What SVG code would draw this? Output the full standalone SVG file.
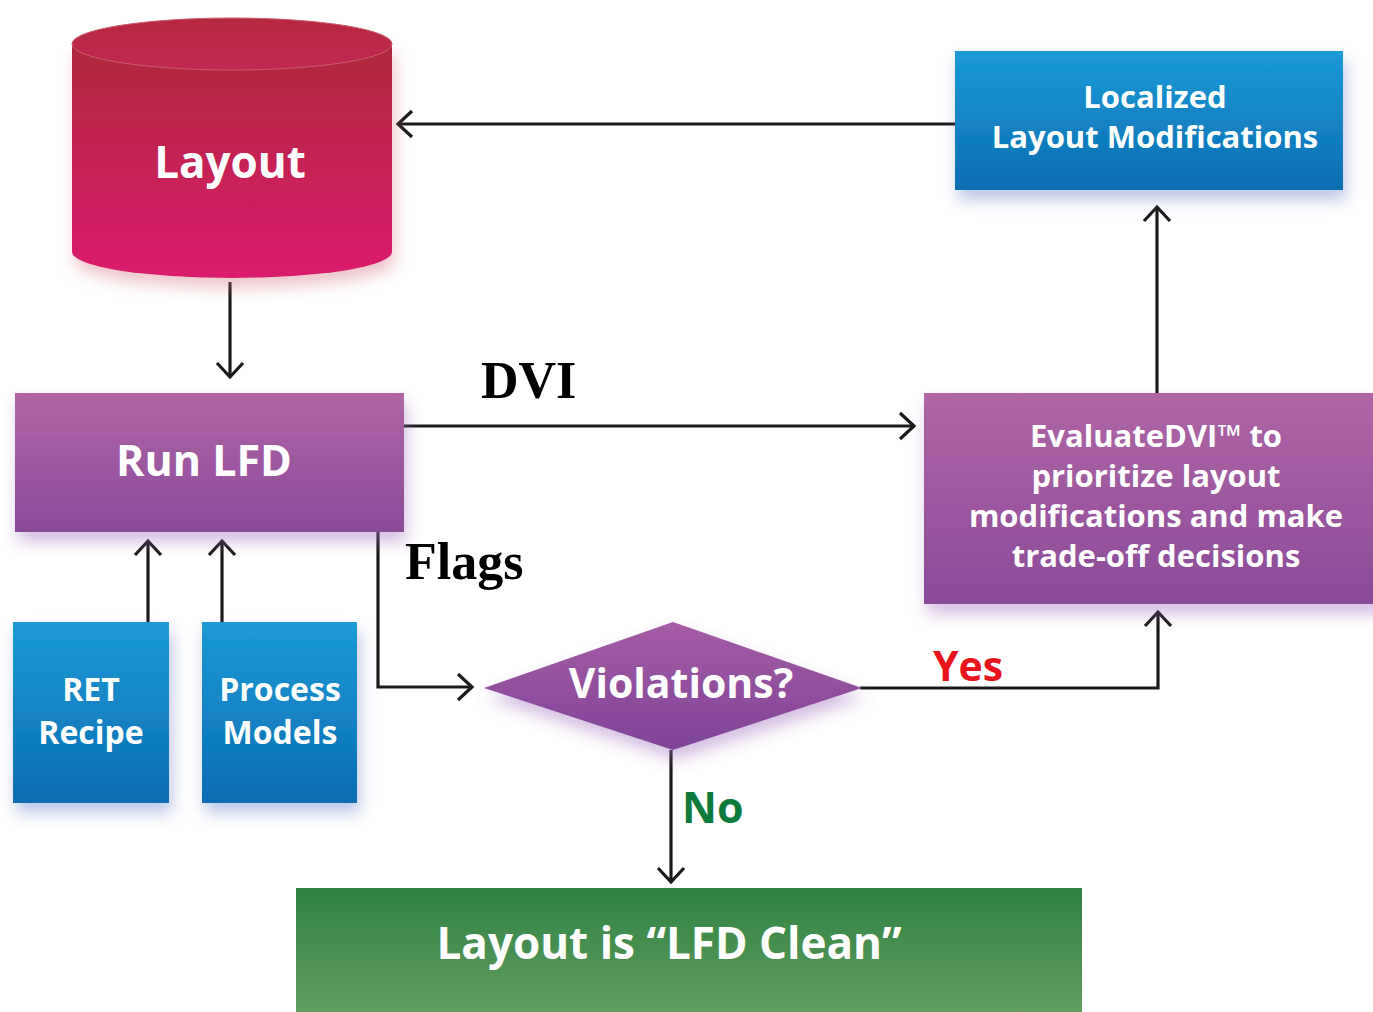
<svg xmlns="http://www.w3.org/2000/svg" width="1373" height="1012" viewBox="0 0 1373 1012">
<defs>
<linearGradient id="gCyl" x1="0" y1="0" x2="0" y2="1"><stop offset="0" stop-color="#ad2a3a"/><stop offset="1" stop-color="#db1a6e"/></linearGradient>
<linearGradient id="gCylTop" x1="0" y1="0" x2="0" y2="1"><stop offset="0" stop-color="#b6283f"/><stop offset="1" stop-color="#c02a52"/></linearGradient>
<linearGradient id="gBlue" x1="0" y1="0" x2="0" y2="1"><stop offset="0" stop-color="#1b9ad6"/><stop offset="1" stop-color="#0b6db2"/></linearGradient>
<linearGradient id="gPurple" x1="0" y1="0" x2="0" y2="1"><stop offset="0" stop-color="#b066a6"/><stop offset="1" stop-color="#8a4a99"/></linearGradient>
<linearGradient id="gDiamond" x1="0" y1="0" x2="0" y2="1"><stop offset="0" stop-color="#a55ca5"/><stop offset="1" stop-color="#7f4497"/></linearGradient>
<linearGradient id="gGreen" x1="0" y1="0" x2="0" y2="1"><stop offset="0" stop-color="#2f8142"/><stop offset="1" stop-color="#68a160"/></linearGradient>
<filter id="shRed" x="-20%" y="-20%" width="140%" height="150%"><feDropShadow dx="3" dy="10" stdDeviation="8" flood-color="#d87a8a" flood-opacity="0.45"/></filter>
<filter id="shBlue" x="-20%" y="-20%" width="140%" height="150%"><feDropShadow dx="3" dy="10" stdDeviation="8" flood-color="#6a7fc8" flood-opacity="0.45"/></filter>
<filter id="shPurple" x="-20%" y="-20%" width="140%" height="150%"><feDropShadow dx="3" dy="10" stdDeviation="8" flood-color="#a070c0" flood-opacity="0.45"/></filter>
<marker id="arr" markerUnits="userSpaceOnUse" markerWidth="30" markerHeight="30" viewBox="0 0 30 30" refX="26" refY="15" orient="auto">
<path d="M12,2 L26,15 L12,28" fill="none" stroke="#1a1a1a" stroke-width="3.2"/>
</marker>
<style>
.lbl{font-family:"Open Sans","Liberation Sans",sans-serif;font-weight:bold;fill:#ffffff;text-anchor:middle}
.conn{fill:none;stroke:#1a1a1a;stroke-width:3.2;marker-end:url(#arr)}
.tl{font-family:"Liberation Serif","Times New Roman",serif;font-weight:bold;font-size:52px;fill:#000}
.yn{font-family:"Open Sans","Liberation Sans",sans-serif;font-weight:bold}
</style>
</defs>
<rect width="1373" height="1012" fill="#ffffff"/>

<g id="connectors">
<path class="conn" d="M955,124 L398,124"/>
<path class="conn" d="M230,282 L230,377"/>
<path class="conn" d="M404,426 L914,426"/>
<path class="conn" d="M148,622 L148,541"/>
<path class="conn" d="M222,622 L222,541"/>
<path class="conn" d="M378,532 L378,687 L472,687"/>
<path class="conn" d="M860,688 L1158,688 L1158,612"/>
<path class="conn" d="M1157,393 L1157,207"/>
<path class="conn" d="M671,750 L671,882"/>
<text class="tl" x="481" y="398">DVI</text>
<text class="tl" x="405" y="579">Flags</text>
<text class="yn" x="933" y="681" font-size="41" fill="#e8141c">Yes</text>
<text class="yn" x="682" y="823" font-size="43" fill="#0b7a3a">No</text>
</g>

<g id="layout">
<g filter="url(#shRed)">
<path d="M72,44 L72,252 A160,26 0 0 0 392,252 L392,44 Z" fill="url(#gCyl)"/>
</g>
<ellipse cx="232" cy="44" rx="160" ry="26" fill="url(#gCylTop)" stroke="#cc5a6e" stroke-width="1"/>
<text class="lbl" x="230" y="178" font-size="44">Layout</text>
</g>

<g id="localized">
<rect x="955" y="51" width="388" height="139" fill="url(#gBlue)" filter="url(#shBlue)"/>
<text class="lbl" x="1155" y="108" font-size="31">Localized</text>
<text class="lbl" x="1155" y="148" font-size="31">Layout Modifications</text>
</g>

<g id="runlfd">
<rect x="15" y="393" width="389" height="139" fill="url(#gPurple)" filter="url(#shPurple)"/>
<text class="lbl" x="204" y="476" font-size="43">Run LFD</text>
</g>

<g id="evaluate">
<rect x="924" y="393" width="460" height="211" fill="url(#gPurple)" filter="url(#shPurple)"/>
<text class="lbl" x="1156" y="447" font-size="31">EvaluateDVI™ to</text>
<text class="lbl" x="1156" y="487" font-size="31">prioritize layout</text>
<text class="lbl" x="1156" y="527" font-size="31">modifications and make</text>
<text class="lbl" x="1156" y="567" font-size="31">trade-off decisions</text>
</g>

<g id="ret">
<rect x="13" y="622" width="156" height="181" fill="url(#gBlue)" filter="url(#shBlue)"/>
<text class="lbl" x="91" y="701" font-size="32">RET</text>
<text class="lbl" x="91" y="744" font-size="32">Recipe</text>
</g>

<g id="process">
<rect x="202" y="622" width="155" height="181" fill="url(#gBlue)" filter="url(#shBlue)"/>
<text class="lbl" x="280" y="701" font-size="32">Process</text>
<text class="lbl" x="280" y="744" font-size="32">Models</text>
</g>

<g id="violations">
<polygon points="673,622 862,688 673,750 484,688" fill="url(#gDiamond)" filter="url(#shPurple)"/>
<text class="lbl" x="681" y="698" font-size="41">Violations?</text>
</g>

<g id="clean">
<rect x="296" y="888" width="786" height="140" fill="url(#gGreen)"/>
<text class="lbl" x="669" y="959" font-size="44">Layout is “LFD Clean”</text>
</g>
</svg>
